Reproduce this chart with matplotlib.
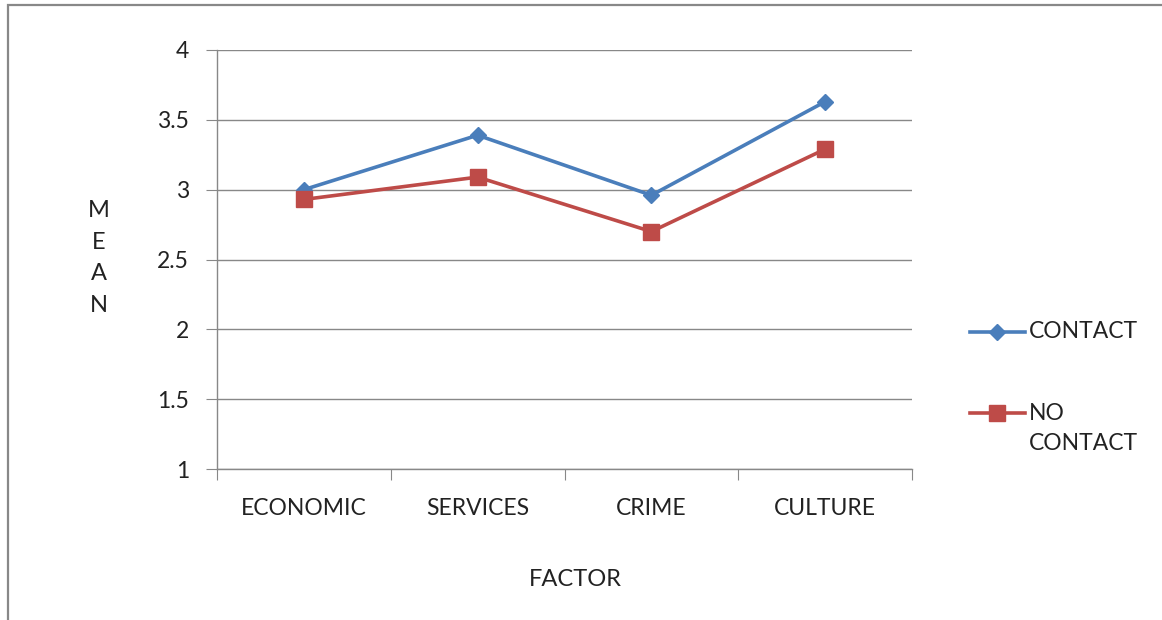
import matplotlib
matplotlib.use("Agg")
import matplotlib.pyplot as plt
from matplotlib.patches import Rectangle
from matplotlib.lines import Line2D

categories = ["ECONOMIC", "SERVICES", "CRIME", "CULTURE"]
contact = [3.00, 3.39, 2.96, 3.63]
no_contact = [2.93, 3.09, 2.70, 3.29]
yticks = [1, 1.5, 2, 2.5, 3, 3.5, 4]
ytick_labels = ["1", "1.5", "2", "2.5", "3", "3.5", "4"]

plt.rcParams['font.family'] = ['Lato', 'DejaVu Sans']
W, H = 1162, 620
fig = plt.figure(figsize=(W / 100, H / 100), dpi=100)

# outer border
fig.patches.append(Rectangle((8 / W, -0.05), 1.1, (H - 5) / H + 0.05, transform=fig.transFigure,
                             fill=False, edgecolor='#888888', linewidth=1.6))

ax = fig.add_axes([217 / W, (H - 469) / H, (912 - 217) / W, (469 - 50) / H])
x = list(range(len(categories)))
blue = '#4A7EBB'
red = '#BE4B48'
ax.plot(x, contact, color=blue, linewidth=2.6, marker='D', markersize=8, zorder=3)
ax.plot(x, no_contact, color=red, linewidth=2.6, marker='s', markersize=11, zorder=3)

ax.set_xlim(-0.5, len(categories) - 0.5)
ax.set_ylim(1, 4)
ax.set_yticks(yticks)
ax.set_yticklabels(ytick_labels)
ax.set_xticks([i - 0.5 for i in range(len(categories) + 1)])
ax.set_xticklabels([])
ax.set_xticks(x, minor=True)
ax.set_xticklabels(categories, minor=True)
ax.tick_params(axis='x', which='minor', length=0, pad=21, labelsize=16.5, labelcolor='#222222')
ax.tick_params(axis='x', which='major', length=8, color='#888888', direction='out')
ax.tick_params(axis='y', length=8, color='#888888', direction='out', pad=12, labelsize=16.5, labelcolor='#222222')
ax.grid(axis='y', color='#888888', linewidth=1)
ax.set_axisbelow(True)
for s in ['top', 'right']:
    ax.spines[s].set_visible(False)
for s in ['left', 'bottom']:
    ax.spines[s].set_color('#888888')
    ax.spines[s].set_linewidth(1)

fig.text(575 / W, 1 - 579 / H, "FACTOR", ha='center', va='center', fontsize=17, color='#222222')
fig.text(99 / W, 1 - 258 / H, "M\nE\nA\nN", ha='center', va='center', fontsize=17,
         color='#222222', linespacing=1.62)

# legend
for yy, col, mk, ms, lab in [(332, blue, 'D', 8, "CONTACT"), (413, red, 's', 11, "NO")]:
    fig.add_artist(Line2D([970 / W, 1025 / W], [1 - yy / H, 1 - yy / H], transform=fig.transFigure,
                          color=col, linewidth=2.6))
    fig.add_artist(Line2D([997 / W], [1 - yy / H], transform=fig.transFigure, color=col,
                          marker=mk, markersize=ms, linestyle='none'))
    fig.text(1029 / W, 1 - yy / H, lab, ha='left', va='center', fontsize=16.5, color='#222222')
fig.text(1029 / W, 1 - 443 / H, "CONTACT", ha='left', va='center', fontsize=16.5, color='#222222')

fig.savefig("out.png", dpi=100, facecolor='white')
